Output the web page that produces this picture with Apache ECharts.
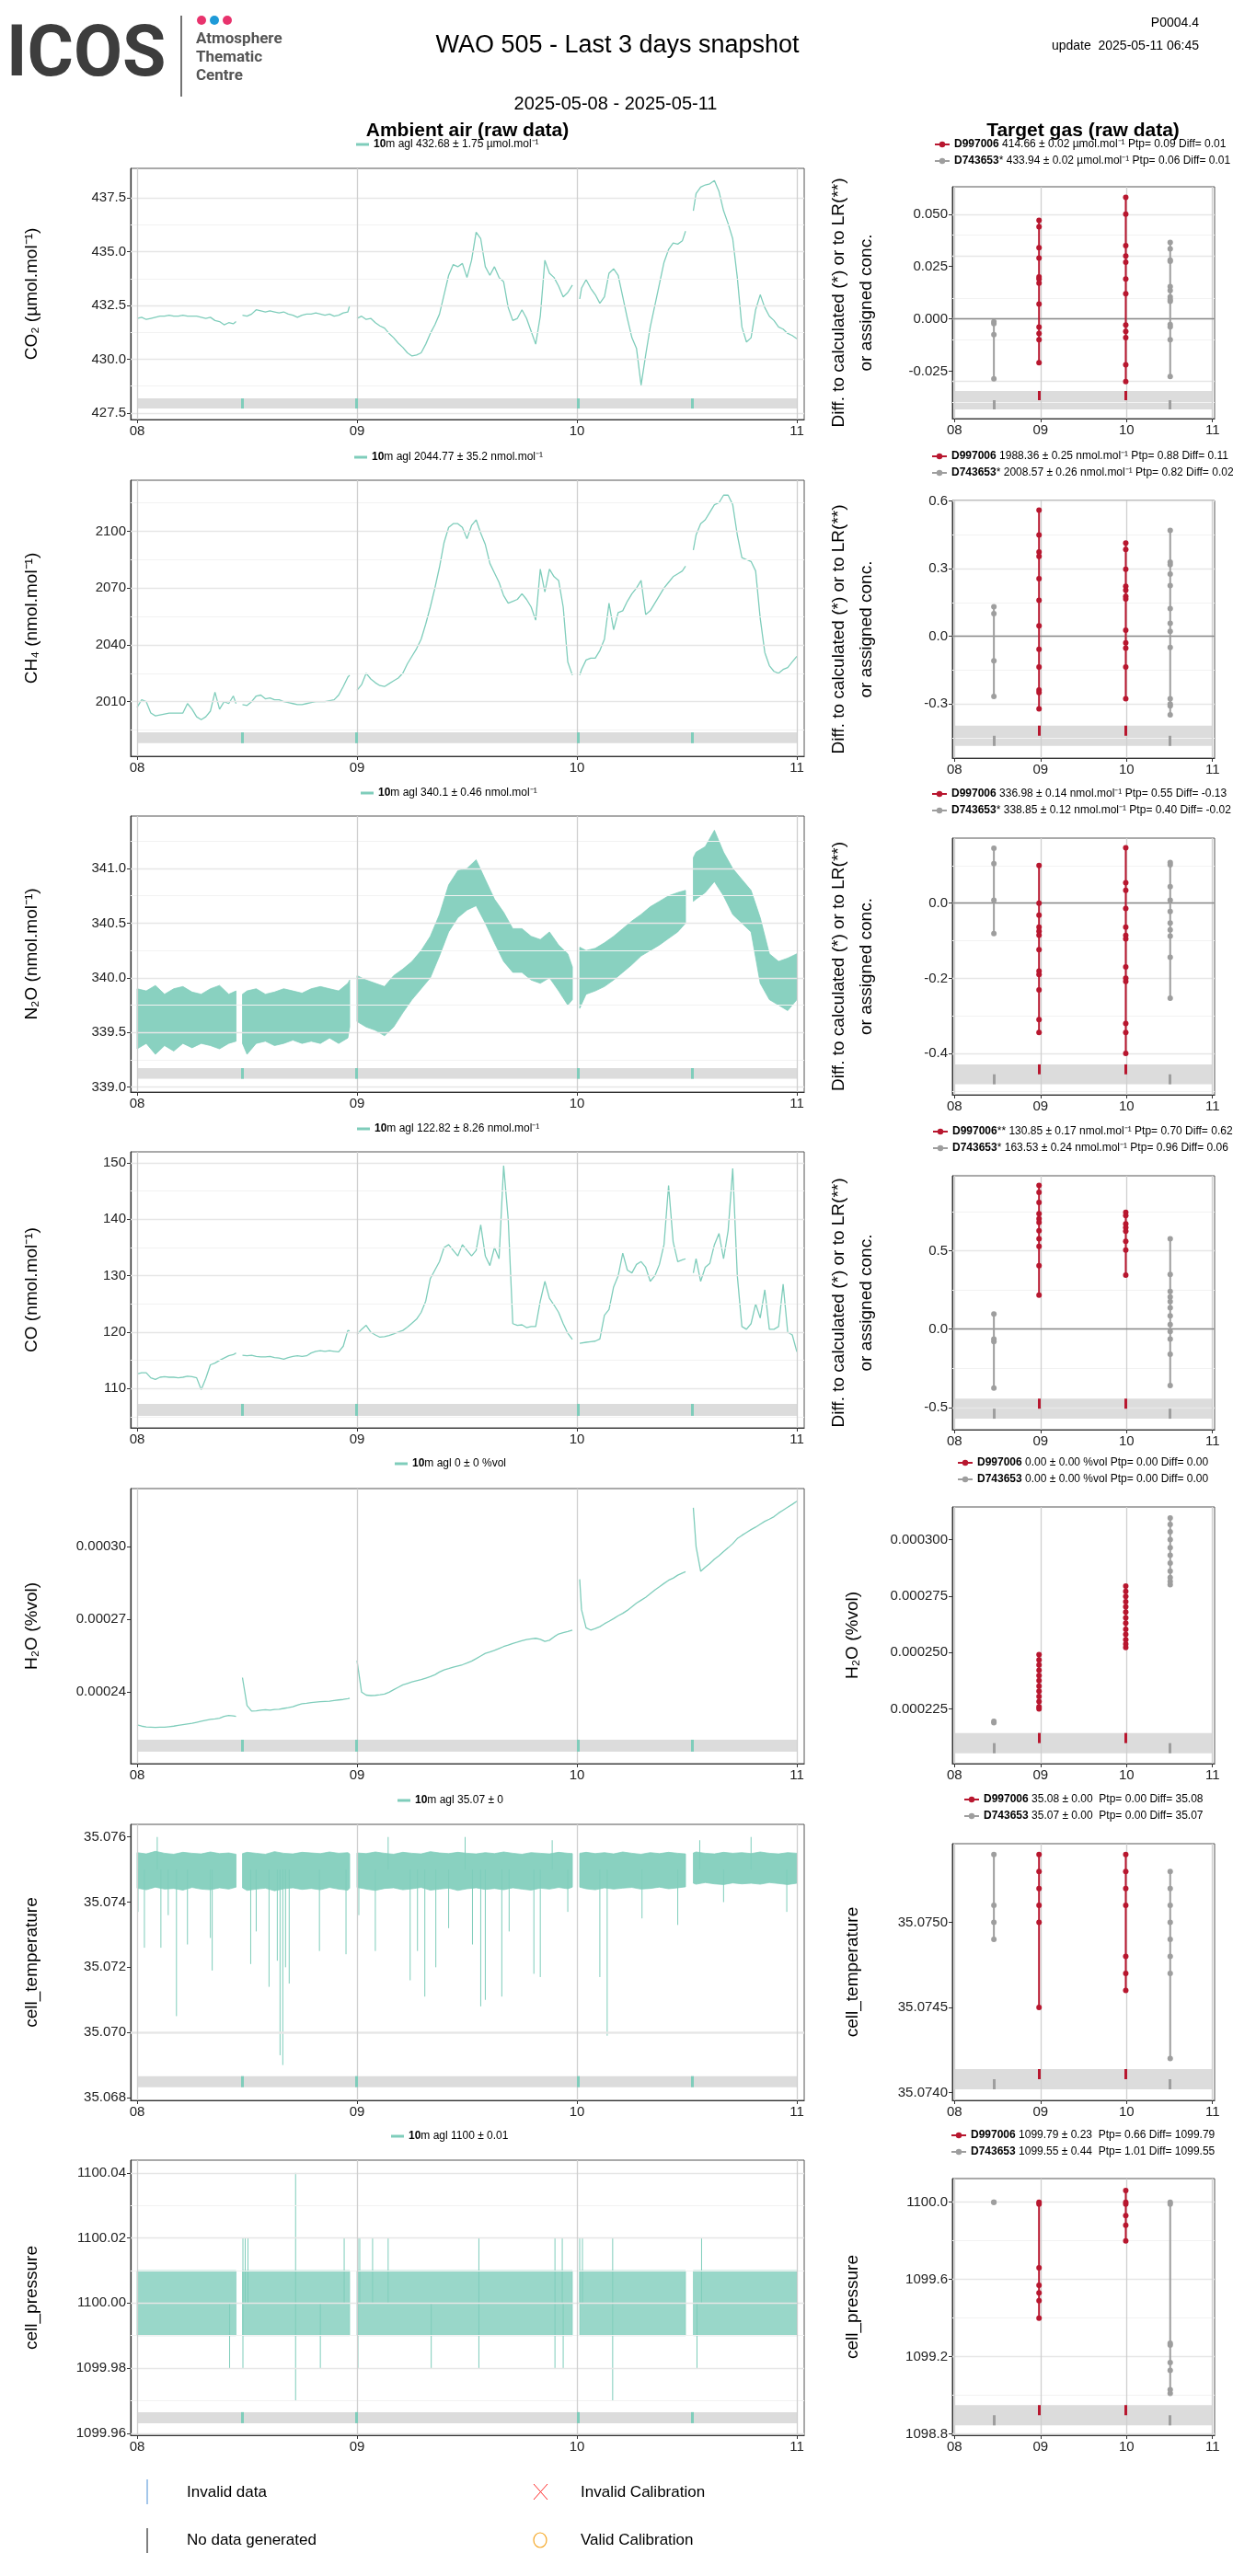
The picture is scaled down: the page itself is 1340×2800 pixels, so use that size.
<!DOCTYPE html>
<html><head><meta charset="utf-8">
<script src="https://cdn.jsdelivr.net/npm/echarts@6/dist/echarts.min.js"></script>
<style>html,body{margin:0;padding:0;background:#fff}#c{width:1340px;height:2800px}</style>
</head><body><div id="c"></div><script>
// ---------------- DATA ----------------
const dayTicks = [0, 24, 48, 72];           // hours since 2025-05-08 00:00
const dayLabels = ['08', '09', '10', '11'];

// half-hourly sample times, one list per uninterrupted stretch (hours)
const tH = [
 [0,0.5,1,1.5,2,2.5,3,3.5,4,4.5,5,5.5,6,6.5,7,7.5,8,8.5,9,9.5,10,10.5,10.8],
 [11.5,12,12.5,13,13.5,14,14.5,15,15.5,16,16.5,17,17.5,18,18.5,19,19.5,20,20.5,21,21.5,22,22.5,23,23.2],
 [24,24.5,25,25.5,26,26.5,27,27.5,28,28.5,29,29.5,30,30.5,31,31.5,32,32.5,33,33.5,34,34.5,35,35.5,36,36.5,37,37.5,38,38.5,39,39.5,40,40.5,41,41.5,42,42.5,43,43.5,44,44.5,45,45.5,46,46.5,47,47.5],
 [48.3,48.5,49,49.5,50,50.5,51,51.5,52,52.5,53,53.5,54,54.5,55,55.5,56,56.5,57,57.5,58,58.5,59,59.5,59.85],
 [60.7,61,61.5,62,62.5,63,63.5,64,64.5,65,65.5,66,66.5,67,67.5,68,68.5,69,69.5,70,70.5,71,71.5,72]
];
// hourly times used for the noise envelopes
const tE = [
 [0,1,2,3,4,5,6,7,8,9,10,10.8],
 [11.5,12,13,14,15,16,17,18,19,20,21,22,23,23.2],
 [24,25,26,27,28,29,30,31,32,33,34,35,36,37,38,39,40,41,42,43,44,45,46,47,47.5],
 [48.3,49,50,51,52,53,54,55,56,57,58,59,59.85],
 [60.7,61,62,63,64,65,66,67,68,69,70,71,72]
];
const segBounds = [[0,10.8],[11.5,23.2],[24,47.5],[48.3,59.85],[60.7,72]];

const co2 = [
 [431.9,431.95,431.85,431.9,431.95,432.0,432.0,432.05,432.0,432.0,432.05,432.0,432.0,432.0,431.95,431.9,431.95,431.8,431.75,431.6,431.7,431.65,431.75],
 [432.05,432.0,432.1,432.3,432.25,432.2,432.25,432.2,432.15,432.2,432.1,432.05,431.95,432.05,432.1,432.1,432.15,432.1,432.05,432.1,432.0,432.05,432.15,432.2,432.5],
 [431.9,432.0,431.85,431.9,431.7,431.55,431.45,431.2,431.0,430.75,430.55,430.3,430.15,430.2,430.3,430.7,431.2,431.6,432.1,433.0,433.9,434.4,434.3,434.45,433.8,434.6,435.9,435.6,434.3,433.9,434.3,433.8,433.6,432.4,431.8,431.9,432.3,431.9,431.3,430.7,432.0,434.6,434.0,433.8,433.4,432.9,433.1,433.45],
 [432.8,433.3,433.7,433.3,433.0,432.6,432.9,434.0,434.2,433.9,432.9,431.9,431.0,430.5,428.8,430.2,431.5,432.5,433.5,434.5,435.1,435.4,435.35,435.5,435.95],
 [436.9,437.7,438.0,438.1,438.15,438.3,437.8,436.9,436.3,435.6,433.8,431.5,430.8,431.0,432.3,433.0,432.4,432.0,431.8,431.5,431.4,431.2,431.1,430.95]
];
const ch4 = [
 [2007,2011,2010,2004,2002.5,2003,2003.5,2004,2004,2004,2004,2009,2006,2002,2000.5,2002,2005,2015,2006,2010,2009,2013,2009],
 [2008.5,2008,2010,2013,2013.5,2011.5,2012,2011,2011,2010,2009.5,2009,2008.5,2008.5,2009,2009.5,2010,2010,2010,2010.5,2011,2013.5,2018,2023,2024],
 [2016,2019,2025,2022,2020,2018.5,2018,2019.5,2021,2022.5,2025,2030,2034,2038,2043,2051,2060,2070,2081,2094,2102,2104,2104,2102,2096,2103,2106,2099,2093,2083,2078,2073,2066,2062,2063,2064,2067,2064,2060,2053,2080,2068,2080,2076,2074,2060,2031,2024],
 [2024,2027,2032,2033,2033,2037,2043,2062,2048,2057,2058,2063,2067,2070,2074,2056,2058,2062,2066,2070,2073,2076,2077.5,2079,2081.5],
 [2090,2098,2104,2106,2110,2114,2115,2119,2119,2114,2098,2086,2085,2084,2079,2054,2036,2029,2026,2025,2027,2028,2031,2034]
];
const co = [
 [112.6,112.8,112.8,111.9,111.6,112.0,112.1,112.0,112.0,111.9,112.0,112.2,112.1,111.9,109.8,111.8,114.2,114.5,115.0,115.4,115.8,116.0,116.3],
 [115.9,115.8,115.9,115.7,115.6,115.6,115.7,115.5,115.4,115.2,115.5,115.7,115.8,115.7,115.8,116.3,116.6,116.7,116.6,116.7,116.6,116.5,117.5,120.3,120.2],
 [119.6,120.5,121.2,120.0,119.5,119.1,119.2,119.4,119.7,120.0,120.3,120.9,121.6,122.3,123.5,125.5,129.5,131.0,132.5,135.0,135.5,134.5,133.5,135.5,134.5,133.5,134.5,139.0,133.5,131.8,135.0,133.0,149.5,140.0,121.5,121.2,121.3,120.8,121.0,121.0,125.5,129.0,126.0,124.8,123.5,121.5,119.8,118.7],
 [118.0,118.1,118.2,118.3,118.4,118.8,123.0,124.0,128.0,130.0,134.0,131.0,130.5,132.0,132.5,131.5,129.0,130.0,132.0,135.5,146.0,136.0,132.5,132.8,133.0],
 [130.5,133.0,129.0,131.5,132.2,135.5,137.5,133.0,138.0,149.0,130.0,121.0,120.5,121.5,125.0,122.5,127.5,120.5,120.5,121.0,128.5,120.0,119.5,116.5]
];
// H2O in units of 1e-4 %vol
const h2oE4 = [
 [2.265,2.26,2.257,2.256,2.255,2.256,2.256,2.258,2.26,2.263,2.266,2.269,2.272,2.276,2.28,2.284,2.288,2.29,2.293,2.3,2.304,2.302,2.3],
 [2.46,2.345,2.322,2.323,2.326,2.328,2.326,2.329,2.33,2.333,2.336,2.34,2.347,2.352,2.354,2.357,2.359,2.361,2.362,2.363,2.366,2.368,2.37,2.373,2.375],
 [2.53,2.40,2.388,2.386,2.387,2.389,2.392,2.40,2.41,2.42,2.43,2.436,2.442,2.447,2.452,2.458,2.464,2.472,2.483,2.492,2.497,2.503,2.508,2.513,2.52,2.528,2.538,2.549,2.56,2.566,2.572,2.58,2.588,2.594,2.601,2.606,2.612,2.617,2.62,2.622,2.618,2.609,2.614,2.628,2.64,2.645,2.65,2.656],
 [2.865,2.74,2.665,2.656,2.662,2.67,2.682,2.692,2.703,2.715,2.725,2.737,2.752,2.767,2.779,2.791,2.806,2.821,2.834,2.848,2.861,2.87,2.882,2.891,2.896],
 [3.16,3.0,2.898,2.915,2.93,2.948,2.962,2.979,2.995,3.012,3.033,3.046,3.058,3.07,3.08,3.092,3.104,3.113,3.123,3.138,3.15,3.162,3.174,3.187]
];
// N2O noise envelope (upper / lower edge of the raw-data band)
const n2oHi = [
 [339.9,339.88,339.93,339.85,339.9,339.92,339.87,339.85,339.9,339.93,339.85,339.88],
 [339.85,339.88,339.9,339.85,339.87,339.9,339.88,339.86,339.9,339.92,339.9,339.88,339.95,339.98],
 [340.02,339.98,339.95,339.92,340.02,340.08,340.15,340.25,340.38,340.58,340.85,340.98,341.0,341.08,340.9,340.72,340.6,340.45,340.45,340.38,340.35,340.42,340.3,340.22,340.1],
 [340.28,340.25,340.27,340.32,340.38,340.45,340.52,340.58,340.65,340.7,340.75,340.78,340.8],
 [341.1,341.15,341.2,341.35,341.15,341.0,340.9,340.8,340.55,340.22,340.15,340.18,340.22]
];
const n2oLo = [
 [339.35,339.4,339.3,339.38,339.33,339.4,339.36,339.4,339.38,339.35,339.4,339.42],
 [339.4,339.3,339.4,339.42,339.38,339.4,339.43,339.4,339.42,339.4,339.45,339.4,339.45,339.55],
 [339.6,339.55,339.52,339.47,339.55,339.68,339.8,339.9,340.0,340.2,340.42,340.55,340.62,340.66,340.5,340.32,340.15,340.05,340.05,339.98,339.95,340.0,339.88,339.75,339.8],
 [339.72,339.85,339.88,339.92,339.98,340.05,340.12,340.2,340.25,340.3,340.36,340.42,340.5],
 [340.7,340.72,340.78,340.88,340.75,340.58,340.5,340.42,339.95,339.8,339.75,339.7,339.8]
];
// cell temperature envelope + isolated spikes
const tempHi = [
 [35.07552,35.07548,35.07556,35.0755,35.07547,35.07553,35.0755,35.07548,35.07554,35.07549,35.07551,35.07547],
 [35.07549,35.07553,35.0755,35.07547,35.07555,35.0755,35.07548,35.07553,35.07551,35.07549,35.07554,35.0755,35.07552,35.07548],
 [35.07551,35.07549,35.07554,35.0755,35.07547,35.07553,35.0755,35.07548,35.07555,35.07551,35.07549,35.07553,35.0755,35.07548,35.07552,35.07549,35.07554,35.0755,35.07547,35.07552,35.0755,35.07548,35.07553,35.0755,35.07549],
 [35.0755,35.07553,35.07549,35.07552,35.07548,35.07554,35.0755,35.07547,35.07552,35.07549,35.07553,35.0755,35.07548],
 [35.07551,35.07554,35.0755,35.07548,35.07553,35.0755,35.07552,35.07549,35.07554,35.0755,35.07548,35.07552,35.0755]
];
const tempLo = [
 [35.07443,35.07438,35.07446,35.0744,35.07442,35.07437,35.07445,35.0744,35.07438,35.07444,35.0744,35.07446],
 [35.07444,35.07436,35.0744,35.07443,35.07435,35.07441,35.07444,35.07439,35.07442,35.07438,35.07445,35.0744,35.07437,35.07443],
 [35.07445,35.0744,35.07436,35.07442,35.07444,35.07438,35.07441,35.07445,35.07437,35.0744,35.07443,35.07436,35.07441,35.07444,35.07439,35.07442,35.07438,35.07444,35.0744,35.07437,35.07443,35.0744,35.07445,35.07441,35.07446],
 [35.07446,35.07441,35.07438,35.07444,35.0744,35.07443,35.07445,35.0744,35.07442,35.07446,35.07441,35.07444,35.07447],
 [35.07458,35.07455,35.0746,35.07456,35.07454,35.07459,35.07456,35.07458,35.07455,35.0746,35.07457,35.07454,35.07458]
];
const tempSpikes = [[0.1,35.0737],[0.8,35.0726],[2.2,35.0760],[2.6,35.0726],[3.4,35.0736],[4.3,35.0705],[5.5,35.0727],[8.0,35.0729],[8.2,35.0719],[12.4,35.0721],[13.0,35.0731],[14.4,35.0714],[15.3,35.0722],[15.6,35.0693],[15.9,35.0690],[16.2,35.0720],[16.6,35.0715],[19.9,35.0725],[22.8,35.0724],[24.2,35.0736],[26.0,35.0725],[27.4,35.0760],[29.8,35.0716],[30.6,35.0725],[31.4,35.0711],[32.6,35.0720],[34.0,35.0732],[35.8,35.0760],[36.6,35.0727],[37.5,35.0708],[38.0,35.0710],[39.8,35.0711],[40.6,35.0731],[43.3,35.0718],[44.0,35.0717],[45.3,35.0759],[47.0,35.0737],[50.5,35.0717],[51.3,35.0699],[55.1,35.0735],[59.0,35.0733],[61.4,35.0759],[64.0,35.0740],[67.0,35.0760],[70.9,35.0737]];
// cell pressure: quantised band edges per stretch + isolated spikes
const presHi = [[1100.01,1100.01],[1100.01,1100.01],[1100.01,1100.01],[1100.01,1100.01],[1100.01,1100.01]];
const presLo = [[1099.99,1099.99],[1099.99,1099.99],[1099.99,1099.99],[1099.99,1099.99],[1099.99,1099.99]];
const presSpikes = [[10.1,1099.98],[11.55,1100.02],[11.55,1099.98],[11.8,1100.02],[12.1,1100.02],[17.3,1100.04],[17.3,1099.97],[20.0,1099.98],[22.6,1100.02],[24.1,1100.02],[24.1,1099.98],[24.3,1100.02],[25.7,1100.02],[27.4,1100.02],[32.1,1099.98],[37.3,1100.02],[37.3,1099.98],[45.6,1100.02],[45.6,1099.98],[46.4,1100.02],[46.5,1099.98],[48.3,1100.02],[48.6,1100.02],[51.9,1100.02],[51.9,1099.97],[61.1,1099.98],[61.6,1100.02]];
const calTicksLeft = [11.44, 23.9, 48.1, 60.55];

// target gas runs
const calRedT = [23.6, 47.8];
const calGrayT = [11.0, 60.2];
const co2TgtRed = [[0.047,0.044,0.034,0.029,0.020,0.019,0.017,0.007,-0.004,-0.007,-0.010,-0.021],[0.058,0.050,0.035,0.030,0.027,0.019,0.012,-0.003,-0.006,-0.009,-0.022,-0.030]];
const co2TgtGray = [[-0.0014,-0.0023,-0.0076,-0.0287],[0.0365,0.0334,0.028,0.0275,0.0154,0.0135,0.0105,0.0091,0.0084,-0.0027,-0.0038,-0.010,-0.0276]];
const ch4TgtRed = [[0.56,0.45,0.374,0.355,0.256,0.16,0.047,-0.057,-0.136,-0.238,-0.249,-0.322],[0.414,0.386,0.298,0.222,0.205,0.177,0.166,0.027,-0.029,-0.052,-0.136,-0.277]];
const ch4TgtGray = [[0.132,0.101,-0.108,-0.266],[0.47,0.329,0.318,0.276,0.225,0.123,0.058,0.022,-0.049,-0.277,-0.3,-0.308,-0.348]];
const n2oTgtRed = [[0.1,0,-0.032,-0.064,-0.075,-0.085,-0.124,-0.181,-0.19,-0.231,-0.31,-0.344],[0.147,0.054,0.034,-0.014,-0.064,-0.086,-0.095,-0.17,-0.2,-0.208,-0.32,-0.344,-0.4]];
const n2oTgtGray = [[0.146,0.105,0.008,-0.081],[0.108,0.102,0.044,0.008,-0.022,-0.053,-0.071,-0.088,-0.144,-0.253]];
const coTgtRed = [[0.916,0.872,0.808,0.736,0.704,0.68,0.628,0.576,0.528,0.404,0.216],[0.744,0.724,0.672,0.648,0.624,0.56,0.504,0.344]];
const coTgtGray = [[0.096,-0.064,-0.08,-0.376],[0.576,0.348,0.24,0.204,0.176,0.136,0.084,0.028,-0.016,-0.064,-0.16,-0.36]];
const h2oTgtRedE4 = [[2.49,2.467,2.444,2.421,2.398,2.375,2.351,2.328,2.305,2.282,2.259,2.25],[2.794,2.771,2.748,2.725,2.702,2.679,2.653,2.63,2.603,2.58,2.557,2.537,2.522]];
const h2oTgtGrayE4 = [[2.195,2.189],[3.096,3.067,3.035,3.0,2.965,2.931,2.896,2.861,2.832,2.815,2.80]];
const tempTgtRed = [[35.0754,35.0753,35.0752,35.0751,35.075,35.0745],[35.0754,35.0753,35.0752,35.0751,35.0748,35.0747,35.0746]];
const tempTgtGray = [[35.0754,35.0751,35.075,35.0749],[35.0753,35.0752,35.0751,35.075,35.0749,35.0748,35.0747,35.0742]];
const presTgtRed = [[1100.0,1099.99,1099.66,1099.57,1099.53,1099.49,1099.4],[1100.06,1100.0,1099.99,1099.93,1099.88,1099.8]];
const presTgtGray = [[1100.0,1100.0],[1100.0,1099.99,1099.27,1099.26,1099.17,1099.13,1099.03,1099.01]];

// axis ticks / labels
const leftAxes = [
 {min:427.2, max:438.87, ticks:[427.5,430,432.5,435,437.5], minor:[428.75,431.25,433.75,436.25], dec:1, band:[427.71,428.18]},
 {min:1981.2, max:2126.9, ticks:[2010,2040,2070,2100], minor:[1995,2025,2055,2085,2115], dec:0, band:[1988.1,1993.8]},
 {min:338.955, max:341.48, ticks:[339,339.5,340,340.5,341], minor:[339.25,339.75,340.25,340.75,341.25], dec:1, band:[339.076,339.174]},
 {min:103.03, max:151.96, ticks:[110,120,130,140,150], minor:[105,115,125,135,145], dec:0, band:[105.16,107.28]},
 {min:0.00021055, max:0.0003239, ticks:[0.00024,0.00027,0.0003], minor:[0.000225,0.000255,0.000285,0.000315], dec:5, band:[0.0002155,0.0002204]},
 {min:35.067915, max:35.076387, ticks:[35.068,35.07,35.072,35.074,35.076], minor:[35.069,35.071,35.073,35.075], dec:3, band:[35.06832,35.068658]},
 {min:1099.9594, max:1100.0439, ticks:[1099.96,1099.98,1100,1100.02,1100.04], minor:[1099.97,1099.99,1100.01,1100.03], dec:2, band:[1099.9631,1099.9665]}
];
const rightAxes = [
 {min:-0.0477, max:0.0631, ticks:[-0.025,0,0.025,0.05], minor:[-0.0375,-0.0125,0.0125,0.0375], dec:3, band:[-0.0433,-0.0345], zero:true},
 {min:-0.54, max:0.603, ticks:[-0.3,0,0.3,0.6], minor:[-0.45,-0.15,0.15,0.45], dec:1, band:[-0.486,-0.396], zero:true},
 {min:-0.51, max:0.173, ticks:[-0.4,-0.2,0], minor:[-0.5,-0.3,-0.1,0.1], dec:1, band:[-0.482,-0.429], zero:true},
 {min:-0.642, max:0.978, ticks:[-0.5,0,0.5], minor:[-0.25,0.25,0.75], dec:1, band:[-0.572,-0.444], zero:true},
 {min:0.0002007, max:0.0003145, ticks:[0.000225,0.00025,0.000275,0.0003], minor:[0.0002125,0.0002375,0.0002625,0.0002875,0.0003125], dec:6, band:[0.0002053,0.0002143]},
 {min:35.073954, max:35.075463, ticks:[35.074,35.0745,35.075], minor:[35.07425,35.07475,35.07525], dec:4, band:[35.074019,35.074138]},
 {min:1098.794, max:1100.122, ticks:[1098.8,1099.2,1099.6,1100], minor:[1099,1099.4,1099.8], dec:1, band:[1098.845,1098.95]}
];

const leftTitles = ['CO₂ (µmol.mol⁻¹)','CH₄ (nmol.mol⁻¹)','N₂O (nmol.mol⁻¹)','CO (nmol.mol⁻¹)','H₂O (%vol)','cell_temperature','cell_pressure'];
const rightTitles = [null,null,null,null,'H₂O (%vol)','cell_temperature','cell_pressure'];
const leftLegend = [
 '{b|10}m agl 432.68 ± 1.75 µmol.mol⁻¹','{b|10}m agl 2044.77 ± 35.2 nmol.mol⁻¹','{b|10}m agl 340.1 ± 0.46 nmol.mol⁻¹',
 '{b|10}m agl 122.82 ± 8.26 nmol.mol⁻¹','{b|10}m agl 0 ± 0 %vol','{b|10}m agl 35.07 ± 0','{b|10}m agl 1100 ± 0.01'];
const rightLegend = [
 ['{b|D997006} 414.66 ± 0.02 µmol.mol⁻¹ Ptp= 0.09 Diff= 0.01','{b|D743653}* 433.94 ± 0.02 µmol.mol⁻¹ Ptp= 0.06 Diff= 0.01'],
 ['{b|D997006} 1988.36 ± 0.25 nmol.mol⁻¹ Ptp= 0.88 Diff= 0.11','{b|D743653}* 2008.57 ± 0.26 nmol.mol⁻¹ Ptp= 0.82 Diff= 0.02'],
 ['{b|D997006} 336.98 ± 0.14 nmol.mol⁻¹ Ptp= 0.55 Diff= -0.13','{b|D743653}* 338.85 ± 0.12 nmol.mol⁻¹ Ptp= 0.40 Diff= -0.02'],
 ['{b|D997006}** 130.85 ± 0.17 nmol.mol⁻¹ Ptp= 0.70 Diff= 0.62','{b|D743653}* 163.53 ± 0.24 nmol.mol⁻¹ Ptp= 0.96 Diff= 0.06'],
 ['{b|D997006} 0.00 ± 0.00 %vol Ptp= 0.00 Diff= 0.00','{b|D743653} 0.00 ± 0.00 %vol Ptp= 0.00 Diff= 0.00'],
 ['{b|D997006} 35.08 ± 0.00  Ptp= 0.00 Diff= 35.08','{b|D743653} 35.07 ± 0.00  Ptp= 0.00 Diff= 35.07'],
 ['{b|D997006} 1099.79 ± 0.23  Ptp= 0.66 Diff= 1099.79','{b|D743653} 1099.55 ± 0.44  Ptp= 1.01 Diff= 1099.55']
];

// ---------------- LAYOUT ----------------
const FONT = '"Liberation Sans", Arial, Helvetica, sans-serif';
const TEAL = '#7fcdbb', RED = '#b8172f', GRAY = '#9e9e9e', BAND = '#dcdcdc';
const leftGrid = [[183,273],[522,300],[887,300],[1252,300],[1618,299],[1983,300],[2348,299]];
const rightGrid = [[203,252],[544,280],[911,279],[1278,276],[1638,279],[2004,279],[2368,279]];
const leftLegendPos = [[387,158],[385,498],[392,863],[388,1228],[429,1592],[432,1958],[425,2323]];
const rightLegendPos = [[1015,158],[1012,497],[1012,864],[1013,1231],[1040,1591],[1047,1957],[1033,2322]];
const LX = [142, 732], RX = [1035, 285];
const leftXRange = [-0.70, 72.80], rightXRange = [-0.59, 72.59];

// ---------------- HELPERS ----------------
function segData(ts, vs, k) {
  k = k || 1; const out = [];
  ts.forEach((seg, i) => {
    if (i > 0) out.push([(ts[i-1][ts[i-1].length-1] + seg[0]) / 2, null]);
    seg.forEach((t, j) => { const v = vs[i][j]; out.push([t, v == null ? null : v * k]); });
  });
  return out;
}
function spikeData(sp, base) { const o = []; sp.forEach(([t, v]) => { o.push([t, base], [t, v], [t, null]); }); return o; }
function calData(times, groups, k) { k = k || 1; const o = []; groups.forEach((vals, i) => { vals.forEach(v => o.push([times[i], v * k])); o.push([times[i], null]); }); return o; }

// envelope band drawn as one polygon per uninterrupted stretch, through the axis scales
function bandSeries(gi, t, hi, lo, op) {
  return {type:'custom', xAxisIndex:gi, yAxisIndex:gi, z:4, silent:true, clip:true,
    data:t.map((s, i) => [s[0], hi[i][0], i]),
    encode:{x:0, y:1},
    renderItem:(params, api) => {
      const i = params.dataIndex;
      const up = t[i].map((tt, j) => api.coord([tt, hi[i][j]]));
      const dn = t[i].map((tt, j) => api.coord([tt, lo[i][j]])).reverse();
      return {type:'polygon', shape:{points:up.concat(dn)},
        style:{fill:TEAL, stroke:TEAL, lineWidth:0.8, opacity:op}};
    }};
}

const grids = [], xAxes = [], yAxes = [], series = [], legends = [], graphics = [];

function axes(gi, xr, ax, fs) {
  xAxes.push({type:'value', gridIndex:gi, min:xr[0], max:xr[1],
    axisLine:{show:true, onZero:false, lineStyle:{color:'#333', width:1.2}},
    axisTick:{show:true, customValues:dayTicks, length:4, lineStyle:{color:'#333'}},
    axisLabel:{show:true, customValues:dayTicks, formatter:v => dayLabels[dayTicks.indexOf(v)], fontSize:fs, color:'#222', fontFamily:FONT, margin:5},
    splitLine:{show:false}});
  yAxes.push({type:'value', gridIndex:gi, min:ax.min, max:ax.max,
    axisLine:{show:true, onZero:false, lineStyle:{color:'#333', width:1.2}},
    axisTick:{show:true, customValues:ax.ticks, length:4, lineStyle:{color:'#333'}},
    axisLabel:{show:true, customValues:ax.ticks, formatter:v => Number(v).toFixed(ax.dec), fontSize:fs, color:'#222', fontFamily:FONT, margin:5},
    splitLine:{show:false}});
}
function helpers(gi, ax, ticks) {
  const d = [];
  ax.minor.forEach(v => d.push({yAxis:v, lineStyle:{color:'#f2f2f2', width:1, type:'solid'}}));
  ax.ticks.forEach(v => d.push({yAxis:v, lineStyle:{color:'#e6e6e6', width:1.4, type:'solid'}}));
  dayTicks.forEach(v => d.push({xAxis:v, lineStyle:{color:'#cfcfcf', width:1.3, type:'solid'}}));
  if (ax.zero) d.push({yAxis:0, lineStyle:{color:'#8a8a8a', width:1.3, type:'solid'}});
  series.push({type:'line', xAxisIndex:gi, yAxisIndex:gi, data:[], z:1, silent:true,
    markLine:{silent:true, symbol:['none','none'], label:{show:false}, animation:false, emphasis:{disabled:true}, data:d}});
  series.push({type:'line', xAxisIndex:gi, yAxisIndex:gi, data:[], z:2, silent:true,
    markArea:{silent:true, itemStyle:{color:BAND}, label:{show:false}, emphasis:{disabled:true},
      data:[[{coord:[dayTicks[0], ax.band[0]]},{coord:[dayTicks[3], ax.band[1]]}]]}});
  series.push({type:'line', xAxisIndex:gi, yAxisIndex:gi, data:[], z:3, silent:true,
    markLine:{silent:true, symbol:['none','none'], label:{show:false}, animation:false, emphasis:{disabled:true},
      data:ticks.map(tk => [{coord:[tk.t, tk.y0], lineStyle:{color:tk.c, width:3, type:'solid'}},{coord:[tk.t, tk.y1]}])}});
}
function legendCfg(pos, items, texts, iconRect) {
  const map = {}; items.forEach((n, i) => map[n] = texts[i]);
  return {orient:'vertical', left:pos[0], top:pos[1]-7, padding:0, itemGap:6,
    itemWidth:iconRect ? 14 : 16, itemHeight:iconRect ? 3 : 8,
    selectedMode:false, data:items.map(n => iconRect ? {name:n, icon:'rect', itemStyle:{color:TEAL}} : n),
    formatter:n => map[n],
    textStyle:{fontSize:12, color:'#000', fontFamily:FONT, rich:{b:{fontWeight:'bold', fontSize:12, color:'#000', fontFamily:FONT}}}};
}

// ---------------- LEFT PANELS ----------------
const leftData = [
 {line:segData(tH, co2)}, {line:segData(tH, ch4)},
 {hi:n2oHi, lo:n2oLo, t:tE},
 {line:segData(tH, co)}, {line:segData(tH, h2oE4, 1e-4)},
 {hi:tempHi, lo:tempLo, t:tE, spikes:tempSpikes, base:35.075},
 {hi:presHi, lo:presLo, t:segBounds, spikes:presSpikes, base:1100.0, op:0.8}
];
leftGrid.forEach((g, i) => {
  const gi = i, ax = leftAxes[i];
  grids.push({left:LX[0], top:g[0], width:LX[1], height:g[1], show:true, borderColor:'#555', borderWidth:1, backgroundColor:'#fff'});
  axes(gi, leftXRange, ax, 15);
  helpers(gi, ax, calTicksLeft.map(t => ({t, y0:ax.band[0], y1:ax.band[1], c:TEAL})));
  const d = leftData[i];
  if (d.line) {
    series.push({type:'line', xAxisIndex:gi, yAxisIndex:gi, data:d.line, symbol:'none', connectNulls:false,
      lineStyle:{color:TEAL, width:1.3}, z:4, silent:true});
  } else {
    series.push(bandSeries(gi, d.t, d.hi, d.lo, d.op || 0.92));
    if (d.spikes) series.push({type:'line', xAxisIndex:gi, yAxisIndex:gi, data:spikeData(d.spikes, d.base), symbol:'none',
      connectNulls:false, lineStyle:{color:TEAL, width:1}, z:4, silent:true});
  }
  const lname = 'L' + (i+1);
  series.push({name:lname, type:'line', xAxisIndex:gi, yAxisIndex:gi, data:[], symbol:'none', lineStyle:{color:TEAL, width:3}, itemStyle:{color:TEAL}});
  legends.push(legendCfg(leftLegendPos[i], [lname], [leftLegend[i]], true));
  graphics.push({type:'text', x:35, y:g[0] + g[1]/2, rotation:Math.PI/2,
    style:{text:leftTitles[i], fontSize:19, fontFamily:FONT, fill:'#000', align:'center', verticalAlign:'middle'}});
});

// ---------------- RIGHT PANELS ----------------
const rightData = [
 [co2TgtRed, co2TgtGray, 1], [ch4TgtRed, ch4TgtGray, 1], [n2oTgtRed, n2oTgtGray, 1], [coTgtRed, coTgtGray, 1],
 [h2oTgtRedE4, h2oTgtGrayE4, 1e-4], [tempTgtRed, tempTgtGray, 1], [presTgtRed, presTgtGray, 1]
];
rightGrid.forEach((g, i) => {
  const gi = 7 + i, ax = rightAxes[i];
  grids.push({left:RX[0], top:g[0], width:RX[1], height:g[1], show:true, borderColor:'#555', borderWidth:1, backgroundColor:'#fff'});
  axes(gi, rightXRange, ax, 15);
  const mid = (ax.band[0] + ax.band[1]) / 2;
  helpers(gi, ax, calRedT.map(t => ({t, y0:mid, y1:ax.band[1], c:RED})).concat(calGrayT.map(t => ({t, y0:ax.band[0], y1:mid, c:GRAY}))));
  const [rd, gd, k] = rightData[i];
  const nA = 'R' + (i+1) + 'a', nB = 'R' + (i+1) + 'b';
  series.push({name:nB, type:'line', xAxisIndex:gi, yAxisIndex:gi, data:calData(calGrayT, gd, k), symbol:'circle', symbolSize:6,
    showAllSymbol:true, connectNulls:false, lineStyle:{color:GRAY, width:2}, itemStyle:{color:GRAY}, z:5, silent:true});
  series.push({name:nA, type:'line', xAxisIndex:gi, yAxisIndex:gi, data:calData(calRedT, rd, k), symbol:'circle', symbolSize:6,
    showAllSymbol:true, connectNulls:false, lineStyle:{color:RED, width:2}, itemStyle:{color:RED}, z:5, silent:true});
  legends.push(legendCfg(rightLegendPos[i], [nA, nB], rightLegend[i], false));
  const cy = g[0] + g[1]/2;
  if (rightTitles[i]) {
    graphics.push({type:'text', x:927, y:cy, rotation:Math.PI/2, style:{text:rightTitles[i], fontSize:19, fontFamily:FONT, fill:'#000', align:'center', verticalAlign:'middle'}});
  } else {
    graphics.push({type:'text', x:912, y:cy, rotation:Math.PI/2, style:{text:'Diff. to calculated (*) or to LR(**)', fontSize:19, fontFamily:FONT, fill:'#000', align:'center', verticalAlign:'middle'}});
    graphics.push({type:'text', x:942, y:cy, rotation:Math.PI/2, style:{text:'or assigned conc.', fontSize:19, fontFamily:FONT, fill:'#000', align:'center', verticalAlign:'middle'}});
  }
});

// ---------------- HEADER / FOOTER ----------------
const txt = (x, y, text, size, opt) => Object.assign({type:'text', x, y, style:Object.assign({text, fontSize:size, fontFamily:FONT, fill:'#000', align:'left', verticalAlign:'middle'}, opt || {})});
graphics.push(
  txt(7, 63, 'ICOS', 77, {fontFamily:'Roboto', fontWeight:'bold', fill:'#3d3d3d'}),
  {type:'line', shape:{x1:197, y1:17, x2:197, y2:105}, style:{stroke:'#444', lineWidth:1.5}},
  {type:'circle', shape:{cx:219, cy:22, r:5}, style:{fill:'#e8336d'}},
  {type:'circle', shape:{cx:233, cy:22, r:5}, style:{fill:'#1e9ad8'}},
  {type:'circle', shape:{cx:247, cy:22, r:5}, style:{fill:'#e8336d'}},
  txt(213, 43, 'Atmosphere', 17, {fontFamily:'"Liberation Sans Narrow", Roboto, sans-serif', fontWeight:'bold', fill:'#555'}),
  txt(213, 63, 'Thematic', 17, {fontFamily:'"Liberation Sans Narrow", Roboto, sans-serif', fontWeight:'bold', fill:'#555'}),
  txt(213, 83, 'Centre', 17, {fontFamily:'"Liberation Sans Narrow", Roboto, sans-serif', fontWeight:'bold', fill:'#555'}),
  txt(671, 50, 'WAO 505 - Last 3 days snapshot', 27, {align:'center'}),
  txt(669, 113, '2025-05-08 - 2025-05-11', 20, {align:'center'}),
  txt(1303, 25, 'P0004.4', 14, {align:'right'}),
  txt(1303, 50, 'update  2025-05-11 06:45', 14, {align:'right'}),
  txt(508, 142, 'Ambient air (raw data)', 21, {align:'center', fontWeight:'bold'}),
  txt(1177, 142, 'Target gas (raw data)', 21, {align:'center', fontWeight:'bold'}),
  {type:'line', shape:{x1:160, y1:2695, x2:160, y2:2722}, style:{stroke:'#4a8fd6', lineWidth:1}},
  txt(203, 2709, 'Invalid data', 17),
  {type:'line', shape:{x1:160, y1:2748, x2:160, y2:2775}, style:{stroke:'#000', lineWidth:1}},
  txt(203, 2761, 'No data generated', 17),
  {type:'line', shape:{x1:580, y1:2700, x2:595, y2:2717}, style:{stroke:'#ff2a2a', lineWidth:1}},
  {type:'line', shape:{x1:595, y1:2700, x2:580, y2:2717}, style:{stroke:'#ff2a2a', lineWidth:1}},
  txt(631, 2709, 'Invalid Calibration', 17),
  {type:'ellipse', shape:{cx:587, cy:2761, rx:7, ry:8}, style:{fill:'none', stroke:'#f5a623', lineWidth:1.2}},
  txt(631, 2761, 'Valid Calibration', 17)
);

const chart = echarts.init(document.getElementById('c'), null, {renderer:'canvas', width:1340, height:2800});
chart.setOption({
  animation:false, backgroundColor:'#fff',
  grid:grids, xAxis:xAxes, yAxis:yAxes, series:series, legend:legends,
  graphic:{elements:graphics}
});
</script></body></html>
